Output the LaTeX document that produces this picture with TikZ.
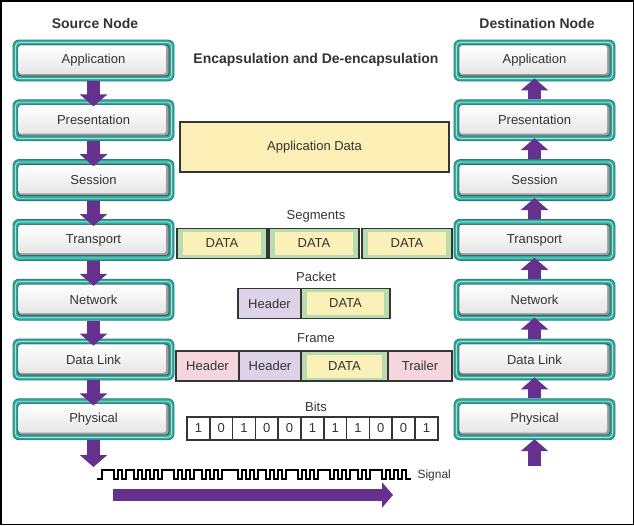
\documentclass[tikz,border=0pt]{standalone}
\usepackage{fontspec}
\setmainfont{Liberation Sans}
\usetikzlibrary{arrows.meta}
\definecolor{tealc}{HTML}{2FA89E}
\definecolor{tealdk}{HTML}{1E8279}
\definecolor{tealln}{HTML}{A8DDD8}
\definecolor{arrowp}{HTML}{66308F}
\definecolor{appy}{HTML}{FCEFB5}
\definecolor{datay}{HTML}{FBF0B8}
\definecolor{datag}{HTML}{B6DCB0}
\definecolor{hdrlav}{HTML}{DDD2E7}
\definecolor{hdrpink}{HTML}{F5D6DD}
\definecolor{txt}{HTML}{333333}
\definecolor{edge}{HTML}{353535}
\begin{document}
\begin{tikzpicture}[x=1pt,y=-1pt,
  font=\fontsize{13}{15}\selectfont, text=txt,
  layer/.style={minimum width=161pt, minimum height=41pt, inner sep=0pt,
    rounded corners=6pt, draw=tealdk, line width=0.8pt, fill=tealc,
    path picture={
      \draw[tealln, line width=0.9pt, rounded corners=4pt]
        ([shift={(2.4pt,-2.4pt)}]path picture bounding box.north west) rectangle
        ([shift={(-2.4pt,2.4pt)}]path picture bounding box.south east);
      \filldraw[fill=black!38, draw=tealdk!60!black, line width=0.6pt, rounded corners=3pt]
        ([shift={(5pt,-5pt)}]path picture bounding box.north west) rectangle
        ([shift={(-5pt,5pt)}]path picture bounding box.south east);
      \shade[top color=white, bottom color=black!10, rounded corners=2.5pt]
        ([shift={(5.4pt,-5.4pt)}]path picture bounding box.north west) rectangle
        ([shift={(-8pt,7.2pt)}]path picture bounding box.south east);
    }},
  heading/.style={font=\bfseries\fontsize{14}{16}\selectfont},
  fatarrow/.style={draw=arrowp, line width=13pt,
    -{Triangle[width=27pt,length=12pt]}},
  cell/.style={draw=edge, line width=1.5pt, minimum height=30pt, inner sep=0pt},
  datacell/.style={cell, fill=datag,
    path picture={
      \fill[datay]
        ([shift={(6pt,-3.5pt)}]path picture bounding box.north west) rectangle
        ([shift={(-6pt,3.5pt)}]path picture bounding box.south east);
    }},
  hdrcell/.style={cell, fill=hdrlav},
  pinkcell/.style={cell, fill=hdrpink},
  bit/.style={draw=edge, line width=1.5pt, minimum width=22.8pt, minimum height=23pt, inner sep=0pt, fill=white},
  sig/.style={draw=black, line width=2pt, line cap=rect}
]
\useasboundingbox (0,0) rectangle (634,525);
\draw[line width=1.5pt] (0.75,0.75) rectangle (633.25,524.25);

% headings
\node[heading] (hsrc) at (95,23) {Source Node};
\node[heading] (hdst) at (537,23) {Destination Node};
\node[heading] (htitle) at (316,60) {Encapsulation and De-encapsulation};

% source layers
\node[layer] (sa) at (93.5,60.5) {Application};
\node[layer] (sp) at (93.5,120.3) {Presentation};
\node[layer] (ss) at (93.5,180.1) {Session};
\node[layer] (st) at (93.5,239.9) {Transport};
\node[layer] (sn) at (93.5,299.7) {Network};
\node[layer] (sd) at (93.5,359.5) {Data Link};
\node[layer] (sh) at (93.5,419.3) {Physical};

% destination layers
\node[layer] (da) at (534.5,60.5) {Application};
\node[layer] (dp) at (534.5,120.3) {Presentation};
\node[layer] (ds) at (534.5,180.1) {Session};
\node[layer] (dt) at (534.5,239.9) {Transport};
\node[layer] (dn) at (534.5,299.7) {Network};
\node[layer] (dd) at (534.5,359.5) {Data Link};
\node[layer] (dh) at (534.5,419.3) {Physical};

% down arrows (source)
\draw[fatarrow] (sa.south) -- ([yshift=-7pt]sp.north);
\draw[fatarrow] (sp.south) -- ([yshift=-7pt]ss.north);
\draw[fatarrow] (ss.south) -- ([yshift=-7pt]st.north);
\draw[fatarrow] (st.south) -- ([yshift=-7pt]sn.north);
\draw[fatarrow] (sn.south) -- ([yshift=-7pt]sd.north);
\draw[fatarrow] (sd.south) -- ([yshift=-7pt]sh.north);
\coordinate (sout) at (93.5,467);
\draw[fatarrow] (sh.south) -- (sout);

% up arrows (destination)
\coordinate (din) at (534.5,466);
\draw[fatarrow] (din) -- ([yshift=1pt]dh.south);
\draw[fatarrow] (dh.north) -- ([yshift=3pt]dd.south);
\draw[fatarrow] (dd.north) -- ([yshift=3pt]dn.south);
\draw[fatarrow] (dn.north) -- ([yshift=3pt]dt.south);
\draw[fatarrow] (dt.north) -- ([yshift=3pt]ds.south);
\draw[fatarrow] (ds.north) -- ([yshift=3pt]dp.south);
\draw[fatarrow] (dp.north) -- ([yshift=3pt]da.south);

% application data
\node[draw=edge, line width=2.2pt, fill=appy, minimum width=269pt, minimum height=50pt] (appdata) at (314.5,147) {Application Data};

% segments
\node (lseg) at (316,216) {Segments};
\node[datacell, minimum width=90pt] (seg1) at (222,243.5) {DATA};
\node[datacell, minimum width=90pt] (seg2) at (314,243.5) {DATA};
\node[datacell, minimum width=90pt] (seg3) at (407,243.5) {DATA};

% packet
\node (lpkt) at (316,277) {Packet};
\node[hdrcell, minimum width=63pt] (pkh) at (269.5,303.5) {Header};
\node[datacell, minimum width=89pt] (pkd) at (345.5,303.5) {DATA};

% frame
\node (lfrm) at (316,338) {Frame};
\node[pinkcell, minimum width=63pt] (fh1) at (207.5,366) {Header};
\node[hdrcell, minimum width=62pt] (fh2) at (270,366) {Header};
\node[datacell, minimum width=87pt] (fd) at (344.5,366) {DATA};
\node[pinkcell, minimum width=64pt] (ft) at (420,366) {Trailer};

% bits
\node (lbits) at (316,407) {Bits};
\foreach \v [count=\i] in {1,0,1,0,0,1,1,1,0,0,1} {
  \node[bit] (b\i) at ({187+22.8*(\i-0.5)},428.5) {\v};
}

% signal
\foreach \b [count=\i, remember=\b as \p (initially 0)] in
  {0,1,1,1,0,1,0,1,1,0, 1,0,1,0,1,0,1,1,1,0, 1,0,1,0,1,1,0,1,0,1,
   0,1,1,1,1,0,1,0,1,0, 1,1,0,1,0,1,0,1,1,1, 0,1,0,1,0,1,1,1,0,1,
   0,1,0,1,1,0,1,0,1,1, 1,0,1,0,1,0,1,0} {
  \pgfmathsetmacro\xa{98+4*(\i-1)}
  \pgfmathsetmacro\ya{\b==1 ? 470 : 479}
  \draw[sig] (\xa,\ya) -- ++(4pt,0pt);
  \ifnum\b=\p\relax\else\draw[sig] (\xa,470) -- (\xa,479);\fi
}
\node[anchor=west, font=\fontsize{12}{14}\selectfont] (lsig) at (414,475) {Signal};

% big signal arrow
\coordinate (bs) at (113,495);
\coordinate (be) at (393,495);
\draw[draw=arrowp, line width=12pt, -{Triangle[width=25pt,length=11pt]}] (bs) -- (be);
\end{tikzpicture}
\end{document}
